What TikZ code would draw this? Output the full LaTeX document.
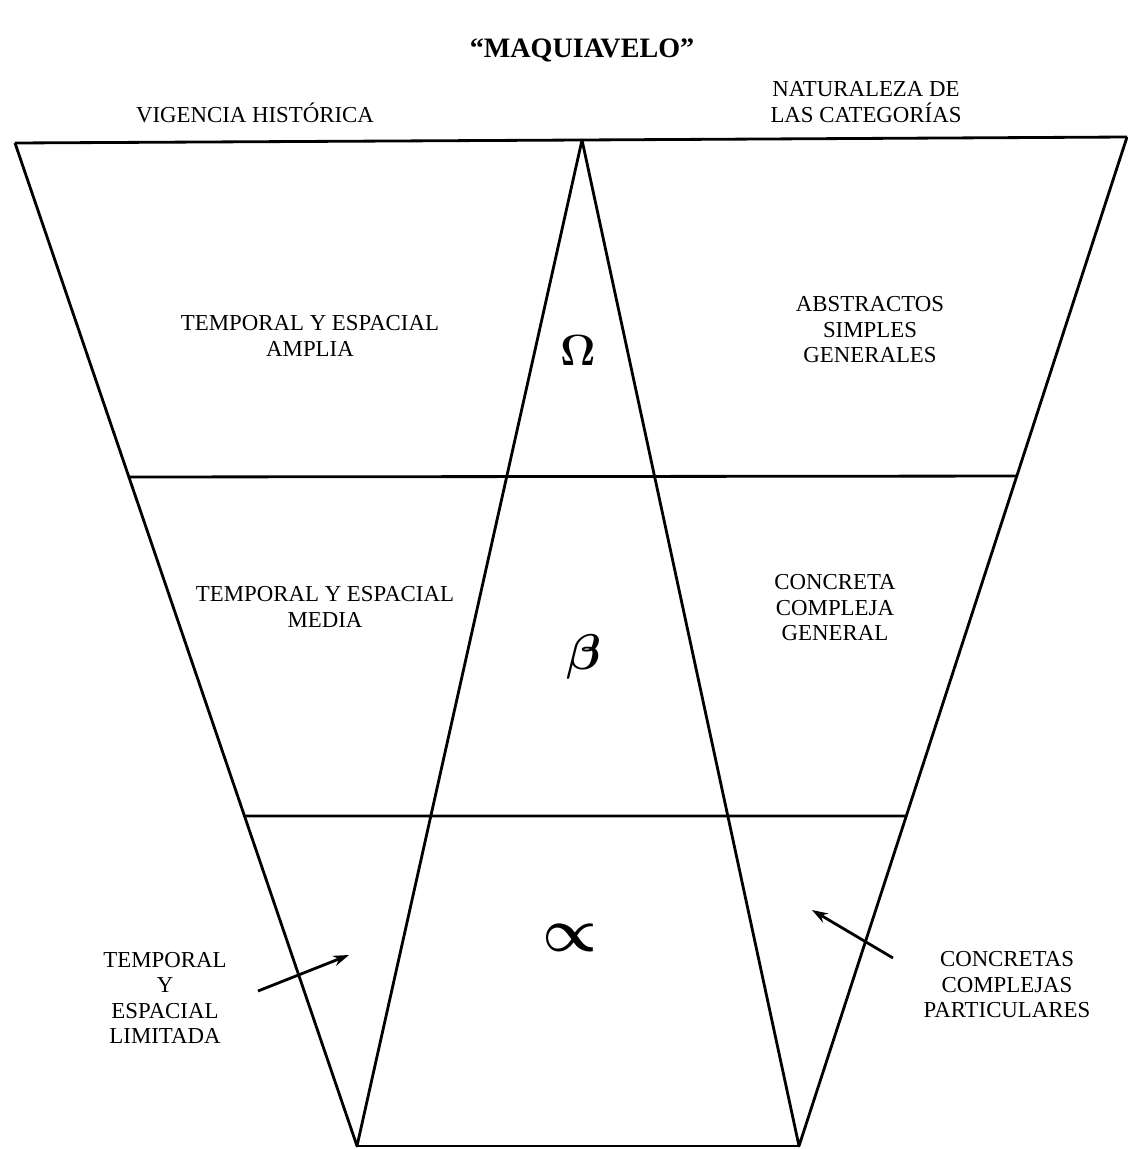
\documentclass[tikz,border=0pt]{standalone}
\usepackage{bm}
\usepackage{fontspec}
\setmainfont{Liberation Serif}
\usetikzlibrary{calc,arrows.meta}
\begin{document}
\begin{tikzpicture}[x=0.02cm,y=-0.02cm,
  edge/.style={line width=1.6pt,line join=round},
  lbl/.style={font=\fontsize{13}{14.5}\selectfont,align=center,inner sep=0pt},
  greek/.style={font=\fontsize{30}{32}\selectfont,inner sep=0pt},
  pointer/.style={line width=1.6pt,-{Stealth[length=9pt,width=6pt,open]}}]
\useasboundingbox (0,0) rectangle (1127,1149);
% vertices
\coordinate (TL) at (15,143);
\coordinate (TM) at (582,140);
\coordinate (TR) at (1127,137);
\coordinate (BL) at (357,1146);
\coordinate (BR) at (799,1146);
% outline
\draw[edge] (TL) -- (TM) -- (TR);
\draw[edge] (TL) -- (BL) -- (TM) -- (BR) -- (TR);
\draw[edge] (BL) -- (BR);
% horizontal bands
\coordinate (H1L) at ($(TL)!0.333!(BL)$);
\coordinate (H1R) at ($(TR)!0.336!(BR)$);
\coordinate (H2L) at ($(TL)!0.671!(BL)$);
\coordinate (H2R) at ($(TR)!0.673!(BR)$);
\draw[edge] (H1L) -- (H1R);
\draw[edge] (H2L) -- (H2R);
% title and headings
\node[font=\fontsize{16}{18}\selectfont\bfseries,inner sep=0pt] (title) at (582,50) {“MAQUIAVELO”};
\node[lbl] (vig) at (255,113) {VIGENCIA HISTÓRICA};
\node[lbl] (nat) at (866,102) {NATURALEZA DE\\LAS CATEGORÍAS};
% band labels
\node[lbl] (amp) at (310,336) {TEMPORAL Y ESPACIAL\\AMPLIA};
\node[lbl] (abs) at (870,330) {ABSTRACTOS\\SIMPLES\\GENERALES};
\node[lbl] (med) at (325,607) {TEMPORAL Y ESPACIAL\\MEDIA};
\node[lbl] (con) at (835,608) {CONCRETA\\COMPLEJA\\GENERAL};
\node[lbl] (lim) at (165,998) {TEMPORAL\\Y\\ESPACIAL\\LIMITADA};
\node[lbl] (par) at (1007,985) {CONCRETAS\\COMPLEJAS\\PARTICULARES};
% greek letters
\node[greek] (om) at (578,350) {$\bm{\Omega}$};
\node[greek,scale=1.15] (be) at (584,657) {$\bm{\beta}$};
\node[greek,scale=1.4] (al) at (570,938) {$\bm{\propto}$};
% pointers
\coordinate (a1s) at (258,991);
\coordinate (a1e) at (349,955);
\coordinate (a2s) at (893,958);
\coordinate (a2e) at (812,910);
\draw[pointer] (a1s) -- (a1e);
\draw[pointer] (a2s) -- (a2e);
\end{tikzpicture}
\end{document}
